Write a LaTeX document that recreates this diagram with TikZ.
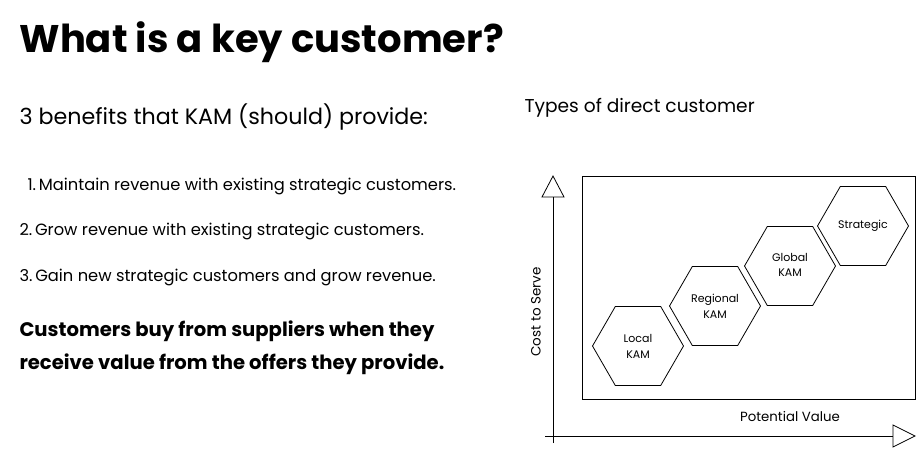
\documentclass[tikz,border=0pt]{standalone}
\usepackage{fontspec}
\setmainfont{Poppins}
\usetikzlibrary{shapes.geometric}
\tikzset{
	hexa/.style={draw,thick,regular polygon,regular polygon sides=6,minimum size=91pt,inner sep=0pt,align=center,font=\fontsize{11}{16}\selectfont},
	item/.style={anchor=west,font=\fontsize{16.3}{19}\selectfont},
	open tip/.style={draw,thick,fill=white}
}
\begin{document}
\begin{tikzpicture}[x=1pt,y=-1pt]
		\useasboundingbox (0,0) rectangle (923,470);
		%
		\node[anchor=west,font=\fontsize{38.5}{44}\bfseries\selectfont] (title) at (16,42) {What is a key customer?};
		\node[anchor=west,font=\fontsize{22.2}{26}\selectfont] (benefits) at (16,117) {3 benefits that KAM (should) provide:};
		\node[item] (i1) at (24,186) {1.\,Maintain revenue with existing strategic customers.};
		\node[item] (i2) at (16,231) {2.\,Grow revenue with existing strategic customers.};
		\node[item] (i3) at (16,277) {3.\,Gain new strategic customers and grow revenue.};
		\node[anchor=west,align=left,font=\fontsize{19.6}{33}\bfseries\selectfont] (claim) at (16,348)
			{Customers buy from suppliers when they\\receive value from the offers they provide.};
		%
		\node[anchor=west,font=\fontsize{18.6}{22}\selectfont] (types) at (521,108) {Types of direct customer};
		%
		\coordinate (yb) at (553,443); \coordinate (yt) at (553,197);
		\coordinate (xl) at (545,436); \coordinate (xr) at (893,436);
		\draw[thick] (yb) -- (yt);
		\draw[thick] (xl) -- (xr);
		\path[open tip] (yt) -- ++(-11,0) -- ++(11,-21) -- ++(11,21) -- cycle;
		\path[open tip] (xr) -- ++(0,-11) -- ++(22,11) -- ++(-22,11) -- cycle;
		\draw[thick] (582,176) rectangle (915,399);
		%
		\node[rotate=90,font=\fontsize{13.5}{16}\selectfont] (cost) at (536,312) {Cost to Serve};
		\node[font=\fontsize{13.3}{16}\selectfont] (value) at (790,416) {Potential Value};
		%
		\node[hexa] (local) at (638,346) {Local\\KAM};
		\node[hexa] (regional) at (715,306) {Regional\\KAM};
		\node[hexa] (global) at (790,266) {\raisebox{8pt}{\begin{tabular}{@{}c@{}}Global\\[-1pt]KAM\end{tabular}}};
		\node[hexa] (strategic) at (863,226) {Strategic};
		%
\end{tikzpicture}
\end{document}
